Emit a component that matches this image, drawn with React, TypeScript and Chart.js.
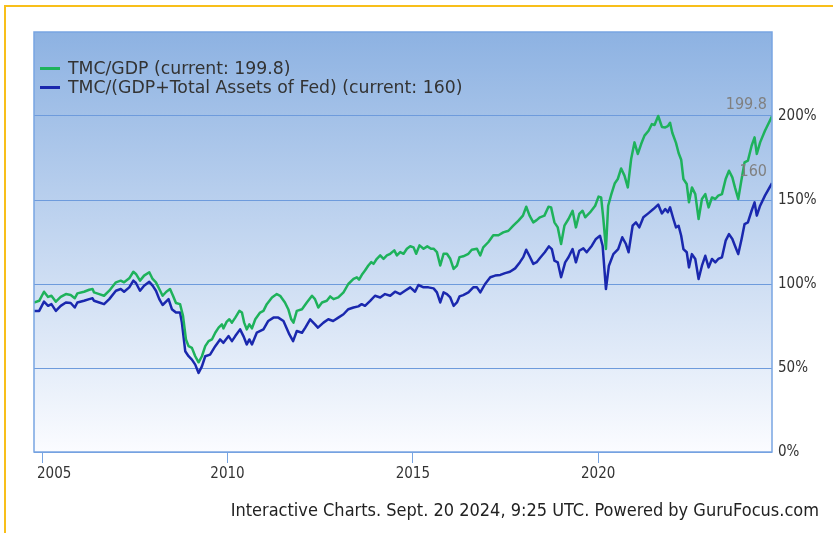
import React, { useEffect, useRef } from "react";
import { Chart, registerables } from "chart.js";

Chart.register(...registerables);

// ---- DATA ----
const tmcGdpYears = [
  2004.78, 2004.92, 2005.05, 2005.16, 2005.25, 2005.37, 2005.5, 2005.64, 2005.77, 2005.88,
  2005.95, 2006.13, 2006.27, 2006.36, 2006.4, 2006.54, 2006.67, 2006.81, 2006.99, 2007.12,
  2007.21, 2007.35, 2007.46, 2007.53, 2007.64, 2007.75, 2007.89, 2007.98, 2008.07, 2008.16,
  2008.25, 2008.35, 2008.45, 2008.53, 2008.61, 2008.72, 2008.8, 2008.88, 2008.95, 2009.04,
  2009.13, 2009.22, 2009.31, 2009.4, 2009.49, 2009.58, 2009.67, 2009.76, 2009.85, 2009.89,
  2009.98, 2010.05, 2010.12, 2010.21, 2010.32, 2010.39, 2010.45, 2010.52, 2010.59, 2010.66,
  2010.75, 2010.88, 2010.97, 2011.06, 2011.2, 2011.33, 2011.42, 2011.55, 2011.64, 2011.72,
  2011.78, 2011.87, 2012.01, 2012.14, 2012.28, 2012.36, 2012.45, 2012.55, 2012.68, 2012.77,
  2012.86, 2012.99, 2013.13, 2013.26, 2013.4, 2013.49, 2013.55, 2013.64, 2013.71, 2013.8,
  2013.88, 2013.94, 2014.03, 2014.12, 2014.21, 2014.3, 2014.39, 2014.5, 2014.57, 2014.66,
  2014.75, 2014.84, 2014.93, 2015.02, 2015.09, 2015.18, 2015.29, 2015.39, 2015.49, 2015.56,
  2015.65, 2015.74, 2015.83, 2015.92, 2016.01, 2016.1, 2016.19, 2016.26, 2016.36, 2016.5,
  2016.59, 2016.73, 2016.82, 2016.9, 2017.04, 2017.17, 2017.31, 2017.44, 2017.58, 2017.71,
  2017.85, 2017.97, 2018.06, 2018.15, 2018.25, 2018.34, 2018.43, 2018.55, 2018.66, 2018.73,
  2018.82, 2018.91, 2019.0, 2019.09, 2019.2, 2019.31, 2019.4, 2019.49, 2019.58, 2019.65,
  2019.78, 2019.92, 2020.01, 2020.08, 2020.14, 2020.21, 2020.27, 2020.35, 2020.45, 2020.53,
  2020.62, 2020.71, 2020.8, 2020.89, 2020.98, 2021.07, 2021.16, 2021.25, 2021.36, 2021.45,
  2021.52, 2021.62, 2021.72, 2021.81, 2021.88, 2021.94, 2022.0, 2022.1, 2022.17, 2022.24,
  2022.3, 2022.39, 2022.45, 2022.53, 2022.62, 2022.71, 2022.8, 2022.89, 2022.98, 2023.07,
  2023.16, 2023.24, 2023.34, 2023.44, 2023.53, 2023.62, 2023.69, 2023.78, 2023.87, 2023.95,
  2024.04, 2024.14, 2024.22, 2024.28, 2024.37, 2024.5, 2024.69,
];
const tmcGdpValues = [
  89, 90, 95.4, 92.3, 93, 89.5, 92.3, 94, 93.4, 91.5,
  94.4, 95.4, 96.6, 97, 95, 94, 93, 96, 101, 102,
  101, 103.4, 107.3, 106, 102, 105, 107, 103, 101, 97,
  93, 95.4, 97, 93, 88.7, 88, 81, 67, 63, 62,
  57, 53.4, 57, 63, 66, 67, 71, 74, 76, 73.6,
  77.6, 79, 77, 80, 84, 83, 77, 73, 76, 73.6,
  79, 83, 84, 88, 92, 94, 93, 89, 85, 79,
  77, 84, 85, 89, 93, 91, 86, 89, 90, 92.6,
  91, 92, 95, 100, 103, 104, 102.6, 106, 108, 111,
  113, 112, 115, 117, 115, 117, 118, 120, 117, 119,
  118, 121, 122.5, 121.8, 118, 123, 121, 122.4, 121, 121,
  119, 111, 118, 118, 115, 109, 111, 116, 116.5, 118,
  120.4, 121, 117, 121.8, 125, 129, 129, 130.7, 131.7, 134.7,
  137.7, 140.7, 146, 140.7, 136.7, 138, 139.7, 140.7, 146, 145.6,
  136.7, 133.7, 123.8, 134.7, 138.7, 143.6, 133.7, 141.7, 143.6, 139.7,
  142.6, 146.6, 152, 151.5, 138.7, 120.8, 146.6, 153, 160, 162.5,
  168.8, 164.5, 157.5, 174.4, 184.3, 177.4, 183.3, 188.3, 191.2, 195.2,
  194.6, 200, 193.5, 193.2, 194, 196, 190, 184, 178, 174,
  162.5, 159.5, 148.6, 157.5, 153.5, 138.7, 150.6, 153.5, 145.6, 151.5,
  150.6, 152.6, 153.5, 162.5, 167.4, 163.5, 157.5, 150.6, 162.5, 172.4,
  173.4, 182.3, 187.3, 177.4, 184.3, 191.2, 199.8,
];

const tmcFedYears = [
  2004.78, 2004.92, 2005.05, 2005.16, 2005.25, 2005.37, 2005.5, 2005.64, 2005.77, 2005.88,
  2005.95, 2006.13, 2006.27, 2006.36, 2006.4, 2006.54, 2006.67, 2006.81, 2006.99, 2007.12,
  2007.21, 2007.35, 2007.46, 2007.53, 2007.64, 2007.75, 2007.89, 2007.98, 2008.07, 2008.16,
  2008.25, 2008.41, 2008.5, 2008.61, 2008.72, 2008.77, 2008.86, 2008.95, 2009.04, 2009.13,
  2009.22, 2009.31, 2009.4, 2009.53, 2009.67, 2009.8, 2009.89, 2010.03, 2010.12, 2010.21,
  2010.34, 2010.43, 2010.52, 2010.59, 2010.66, 2010.79, 2010.97, 2011.1, 2011.24, 2011.37,
  2011.51, 2011.67, 2011.77, 2011.87, 2012.01, 2012.1, 2012.23, 2012.36, 2012.44, 2012.59,
  2012.72, 2012.85, 2012.99, 2013.13, 2013.26, 2013.4, 2013.53, 2013.62, 2013.71, 2013.85,
  2013.98, 2014.12, 2014.25, 2014.39, 2014.52, 2014.66, 2014.79, 2014.93, 2015.06, 2015.15,
  2015.29, 2015.42, 2015.56, 2015.65, 2015.74, 2015.83, 2015.92, 2016.01, 2016.1, 2016.19,
  2016.26, 2016.36, 2016.5, 2016.63, 2016.73, 2016.82, 2016.95, 2017.09, 2017.22, 2017.36,
  2017.49, 2017.62, 2017.76, 2017.89, 2017.98, 2018.06, 2018.15, 2018.25, 2018.34, 2018.43,
  2018.56, 2018.67, 2018.75, 2018.82, 2018.91, 2019.0, 2019.11, 2019.2, 2019.31, 2019.4,
  2019.49, 2019.6, 2019.69, 2019.83, 2019.94, 2020.05, 2020.12, 2020.21, 2020.29, 2020.41,
  2020.54, 2020.65, 2020.75, 2020.82, 2020.93, 2021.02, 2021.11, 2021.22, 2021.36, 2021.49,
  2021.62, 2021.72, 2021.81, 2021.88, 2021.94, 2022.03, 2022.1, 2022.17, 2022.24, 2022.3,
  2022.39, 2022.45, 2022.53, 2022.62, 2022.71, 2022.8, 2022.89, 2022.98, 2023.07, 2023.16,
  2023.24, 2023.34, 2023.44, 2023.53, 2023.62, 2023.69, 2023.78, 2023.87, 2023.95, 2024.04,
  2024.14, 2024.22, 2024.28, 2024.37, 2024.5, 2024.69,
];
const tmcFedValues = [
  84, 84, 89.5, 87, 88, 84, 87, 89, 88.7, 86,
  89, 90, 91, 91.5, 90, 89, 88, 91, 96, 97,
  95.4, 98, 102, 100.6, 96, 99, 101.3, 99, 96, 91,
  87.5, 91, 85, 83, 83, 77, 60, 57, 55, 52,
  47, 51, 57, 58, 63, 67, 65, 69, 66, 69,
  73, 69, 64, 67, 64, 71, 73, 78, 80, 80,
  78, 70, 66, 72, 71, 74, 79, 76, 74, 77,
  79, 78, 80, 82, 85, 86, 86.7, 88, 87, 90,
  93, 92, 94, 93, 95.4, 94, 96, 98, 95.4, 99.4,
  98, 98, 97.4, 95, 89, 95, 94, 92, 87, 89,
  92.6, 93.4, 95, 98, 98, 95, 100, 104, 105, 105.4,
  106.5, 107.3, 109.3, 113, 116, 120.4, 116.5, 112, 113, 115.5,
  118.9, 122.4, 120.8, 113.9, 112.9, 104, 112.9, 115.9, 120.8, 112.9,
  119.8, 121.2, 118.9, 122.8, 126.8, 128.7, 122.8, 97, 110.9, 117.8,
  120.8, 127.8, 123.8, 118.9, 134.7, 136.7, 133.7, 139.7, 142.2, 144.6,
  147.3, 142, 144.6, 142.7, 145.6, 138.7, 133.7, 134.7, 128.7, 120.8,
  118.9, 109.9, 117.8, 114.9, 103, 110.9, 116.8, 109.9, 114.9, 112.9,
  114.9, 115.9, 125.8, 129.7, 126.8, 122.8, 117.8, 126.8, 135.7, 136.7,
  143.6, 148.6, 140.7, 146.6, 152.6, 160,
];

const seriesNames = [
  "TMC/GDP (current: 199.8)",
  "TMC/(GDP+Total Assets of Fed) (current: 160)",
];
const currentLabels = ["199.8", "160"];
const xTickYears = [2005, 2010, 2015, 2020];
const yTickValues = [0, 50, 100, 150, 200];
const footerText =
  "Interactive Charts. Sept. 20 2024, 9:25 UTC. Powered by GuruFocus.com";

// ---- STYLE ----
const GREEN = "#1eb25b";
const BLUE = "#1a28ae";
const FRAME_BLUE = "#78a5e2";
const GRID_BLUE = "#6e9bdc";
const FONT = '"DejaVu Sans Condensed", "DejaVu Sans", sans-serif';
const LEGEND_FONT = '"DejaVu Sans", sans-serif';

const decorPlugin = {
  id: "decor",
  beforeDraw(chart: any) {
    const { ctx, chartArea: a } = chart;
    const g = ctx.createLinearGradient(0, a.top, 0, a.bottom);
    g.addColorStop(0, "#8db2e2");
    g.addColorStop(1, "#fbfcff");
    ctx.save();
    ctx.fillStyle = g;
    ctx.fillRect(a.left, a.top, a.right - a.left, a.bottom - a.top);
    ctx.restore();
  },
  afterDraw(chart: any) {
    const { ctx, chartArea: a, scales } = chart;
    ctx.save();
    ctx.strokeStyle = FRAME_BLUE;
    ctx.lineWidth = 1.5;
    ctx.strokeRect(a.left, a.top, a.right - a.left, a.bottom - a.top);

    ctx.font = `15px ${FONT}`;
    ctx.fillStyle = "#333333";
    ctx.textBaseline = "middle";
    ctx.textAlign = "left";
    xTickYears.forEach((v) => {
      const px = scales.x.getPixelForValue(v);
      const t = String(v);
      const w = ctx.measureText(t).width;
      const left = Math.max(px - w / 2, a.left + 3);
      ctx.fillText(t, left, a.bottom + 22);
    });

    ctx.font = `16px ${FONT}`;
    ctx.fillStyle = "#808080";
    ctx.textAlign = "right";
    chart.data.datasets.forEach((_: any, i: number) => {
      const meta = chart.getDatasetMeta(i);
      const last = meta.data[meta.data.length - 1];
      if (last) ctx.fillText(currentLabels[i], last.x - 5, last.y - 11);
    });
    ctx.restore();
  },
};

export default function App() {
  const canvasRef = useRef<HTMLCanvasElement | null>(null);

  useEffect(() => {
    const canvas = canvasRef.current;
    if (!canvas) return;
    const chart = new Chart(canvas, {
      type: "line",
      data: {
        datasets: [
          {
            label: seriesNames[0],
            data: tmcGdpYears.map((x, i) => ({ x, y: tmcGdpValues[i] })),
            borderColor: GREEN,
            backgroundColor: GREEN,
            borderWidth: 2.5,
            pointRadius: 0,
            tension: 0,
            borderJoinStyle: "round",
          },
          {
            label: seriesNames[1],
            data: tmcFedYears.map((x, i) => ({ x, y: tmcFedValues[i] })),
            borderColor: BLUE,
            backgroundColor: BLUE,
            borderWidth: 2.5,
            pointRadius: 0,
            tension: 0,
            borderJoinStyle: "round",
          },
        ],
      },
      options: {
        responsive: false,
        animation: false,
        layout: { padding: { left: 34, top: 32, right: 0, bottom: 0 } },
        plugins: {
          legend: { display: false },
          tooltip: { enabled: false },
        },
        scales: {
          x: {
            type: "linear",
            min: tmcGdpYears[0],
            max: tmcGdpYears[tmcGdpYears.length - 1],
            afterBuildTicks: (s: any) => {
              s.ticks = xTickYears.map((value) => ({ value }));
            },
            afterFit: (s: any) => {
              s.height = 81;
            },
            ticks: { display: false },
            grid: {
              drawOnChartArea: false,
              drawTicks: true,
              tickLength: 11,
              color: FRAME_BLUE,
              lineWidth: 1,
            },
            border: { display: false },
          },
          y: {
            position: "right",
            min: 0,
            max: 250,
            afterBuildTicks: (s: any) => {
              s.ticks = yTickValues.map((value) => ({ value }));
            },
            afterFit: (s: any) => {
              s.width = 61;
            },
            ticks: {
              callback: (v: any) => `${v}%`,
              color: "#333333",
              font: { family: FONT, size: 15 },
              padding: 6,
            },
            grid: { drawTicks: false, color: GRID_BLUE, lineWidth: 1 },
            border: { display: false },
          },
        },
      },
      plugins: [decorPlugin],
    });
    return () => chart.destroy();
  }, []);

  const legendColors = [GREEN, BLUE];
  const legendCenters = [68, 87];

  return (
    <div
      style={{
        position: "absolute",
        left: 0,
        top: 0,
        width: 833,
        height: 533,
        overflow: "hidden",
        background: "#ffffff",
        fontFamily: FONT,
      }}
    >
      <div
        style={{
          position: "absolute",
          left: 4,
          top: 5,
          width: 1000,
          height: 1000,
          borderTop: "2px solid #f8bf1a",
          borderLeft: "2px solid #f8bf1a",
        }}
      />
      <canvas
        ref={canvasRef}
        width={833}
        height={533}
        style={{ position: "absolute", left: 0, top: 0, width: 833, height: 533 }}
      />
      {seriesNames.map((name, i) => (
        <div
          key={name}
          style={{
            position: "absolute",
            left: 40,
            top: legendCenters[i] - 11,
            height: 22,
            display: "flex",
            alignItems: "center",
            whiteSpace: "nowrap",
          }}
        >
          <span
            style={{
              display: "inline-block",
              width: 20,
              height: 3,
              background: legendColors[i],
              marginRight: 8,
            }}
          />
          <span
            style={{
              fontFamily: LEGEND_FONT,
              fontSize: 17.3,
              color: "#333333",
              lineHeight: "22px",
            }}
          >
            {name}
          </span>
        </div>
      ))}
      <div
        style={{
          position: "absolute",
          right: 14,
          top: 499,
          fontSize: 18,
          lineHeight: "22px",
          color: "#222222",
          whiteSpace: "nowrap",
        }}
      >
        {footerText}
      </div>
    </div>
  );
}
